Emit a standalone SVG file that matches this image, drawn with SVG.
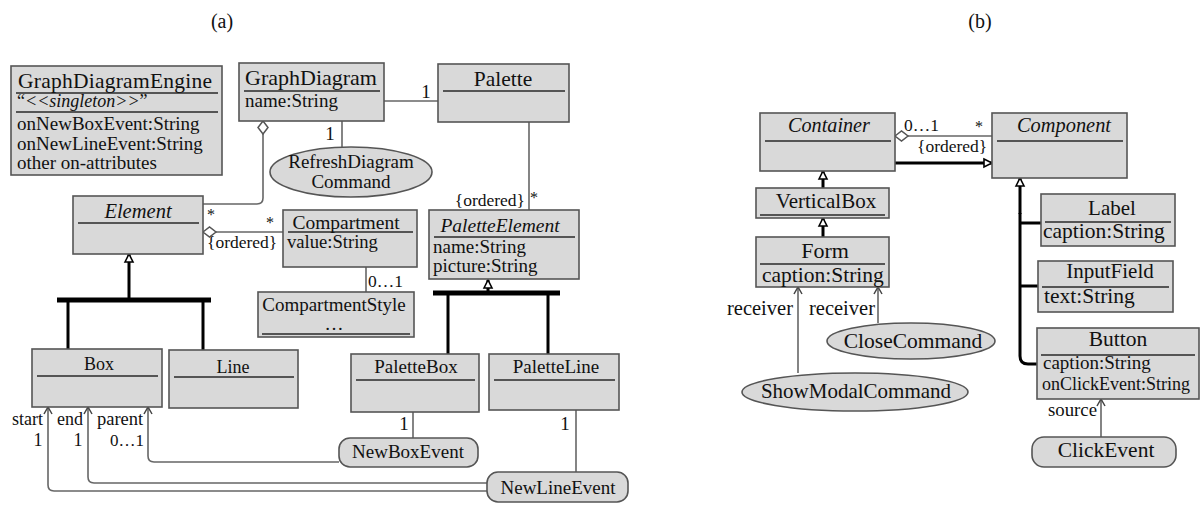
<svg xmlns="http://www.w3.org/2000/svg" width="1201" height="506" viewBox="0 0 1201 506" font-size="19">
<style>
text{font-family:"Liberation Serif","Times New Roman",serif;fill:#111}
.m{text-anchor:middle}
.it{font-style:italic}
.box{fill:#d9d9d9;stroke:#555;stroke-width:1.6}
.sep{stroke:#555;stroke-width:2;fill:none}
.conn{fill:none;stroke:#666;stroke-width:1.6}
.gen{fill:none;stroke:#000;stroke-width:3}
.bar{fill:none;stroke:#000;stroke-width:5}
.lbl{font-size:17.5px}
.star{font-size:16px}
</style>
<defs>
<marker id="dia" markerUnits="userSpaceOnUse" markerWidth="14" markerHeight="12" refX="0" refY="5" orient="auto" overflow="visible">
<path d="M0,5 L6.5,0 L13,5 L6.5,10 Z" fill="#fff" stroke="#555" stroke-width="1.5"/>
</marker>
<marker id="arr" markerUnits="userSpaceOnUse" markerWidth="10" markerHeight="10" refX="8" refY="4" orient="auto" overflow="visible">
<path d="M1,0 L8,4 L1,8" fill="none" stroke="#444" stroke-width="1.5"/>
</marker>
<marker id="tri" markerUnits="userSpaceOnUse" markerWidth="10" markerHeight="10" refX="8" refY="4" orient="auto" overflow="visible">
<path d="M0,0 L8,4 L0,8 Z" fill="#fff" stroke="#000" stroke-width="1.6"/>
</marker>
</defs>
<rect width="1201" height="506" fill="#fff"/>
<text class="m" x="222" y="28" font-size="20">(a)</text>
<text class="m" x="980" y="28" font-size="20">(b)</text>

<g id="connectors">
<!-- part a -->
<path class="conn" d="M384,101 L438,101"/>
<text class="m" x="426" y="98">1</text>
<path class="conn" d="M342,121 L342,147"/>
<text class="m" x="330" y="140">1</text>
<path class="conn" d="M263,121 L263,198 Q263,204 257,204 L203,204" marker-start="url(#dia)"/>
<text class="m star" x="211" y="220">*</text>
<path class="conn" d="M203,232 L283,232" marker-start="url(#dia)"/>
<text class="m star" x="270" y="228">*</text>
<text class="lbl" x="207" y="248">{ordered}</text>
<path class="conn" d="M366,267 L366,292"/>
<text class="lbl" x="368" y="287">0…1</text>
<path class="conn" d="M529,122 L529,210"/>
<text class="star" x="530" y="203">*</text>
<text class="lbl" x="525" y="206" text-anchor="end">{ordered}</text>
<path class="conn" d="M413,412 L413,438"/>
<text class="m" x="404" y="430">1</text>
<path class="conn" d="M576,410 L576,472"/>
<text class="m" x="565" y="430">1</text>
<path class="conn" d="M339,462 L154,462 Q148,462 148,456 L148,407" marker-end="url(#arr)"/>
<path class="conn" d="M487,483 L94,483 Q88,483 88,477 L88,407" marker-end="url(#arr)"/>
<path class="conn" d="M487,491 L54,491 Q48,491 48,485 L48,407" marker-end="url(#arr)"/>
<text x="12" y="425" font-size="18">start</text>
<text class="m" x="38" y="446" font-size="18">1</text>
<text x="57" y="425" font-size="18">end</text>
<text class="m" x="78" y="446" font-size="18">1</text>
<text x="97" y="425" font-size="18.5">parent</text>
<text x="110" y="446" font-size="17">0…1</text>
<!-- generalization trees part a -->
<path class="gen" d="M129,300 L129,254" marker-end="url(#tri)"/>
<path class="bar" d="M57,300 L211,300"/>
<path class="gen" d="M68,300 L68,350 M203,300 L203,350"/>
<path class="gen" d="M488,293 L488,280" marker-end="url(#tri)"/>
<path class="bar" d="M433,293 L560,293"/>
<path class="gen" d="M448,293 L448,354 M548,293 L548,354"/>
<!-- part b -->
<path class="conn" d="M895,136 L992,136" marker-start="url(#dia)"/>
<text class="lbl" x="904" y="131">0…1</text>
<text class="m star" x="979" y="132">*</text>
<text class="lbl" x="917" y="152">{ordered}</text>
<path class="gen" d="M895,163 L992,163" marker-end="url(#tri)"/>
<path class="gen" d="M823,188 L823,171" stroke-width="4" marker-end="url(#tri)"/>
<path class="gen" d="M823,237 L823,218" stroke-width="4" marker-end="url(#tri)"/>
<path class="conn" d="M798,373 L798,287" marker-end="url(#arr)"/>
<text x="727" y="315" font-size="20.5">receiver</text>
<path class="conn" d="M878,323 L878,287" marker-end="url(#arr)"/>
<text x="809" y="315" font-size="20.5">receiver</text>
<path class="gen" d="M1020,214 L1020,178" stroke-width="4" marker-end="url(#tri)"/>
<path class="gen" d="M1020,213 L1020,356 Q1020,364 1028,364 L1037,364" stroke-width="6"/>
<path class="gen" d="M1020,223 L1041,223 M1020,286 L1038,286" stroke-width="4"/>
<path class="conn" d="M1101,437 L1101,399" marker-end="url(#arr)"/>
<text x="1048" y="416" font-size="18.8">source</text>
</g>

<g id="GraphDiagramEngine">
<rect class="box" x="11" y="66" width="211" height="109"/>
<path class="sep" d="M16,93 H218 M16,112 H218"/>
<text class="m" x="115" y="88" font-size="21.5" textLength="194">GraphDiagramEngine</text>
<text x="17" y="107" font-size="18">“<tspan class="it">&lt;&lt;singleton&gt;&gt;</tspan>”</text>
<text x="17" y="130">onNewBoxEvent:String</text>
<text x="17" y="150">onNewLineEvent:String</text>
<text x="17" y="169">other on-attributes</text>
</g>
<g id="GraphDiagram">
<rect class="box" x="239" y="63" width="145" height="58"/>
<path class="sep" d="M244,91 H380"/>
<text class="m" x="311" y="85" font-size="22">GraphDiagram</text>
<text x="245" y="107">name:String</text>
</g>
<g id="Palette">
<rect class="box" x="438" y="64" width="131" height="58"/>
<path class="sep" d="M443,91 H565"/>
<text class="m" x="503" y="86" font-size="21.5">Palette</text>
</g>
<g id="RefreshDiagramCommand">
<ellipse class="box" cx="351" cy="172" rx="81" ry="25"/>
<text class="m" x="351" y="168">RefreshDiagram</text>
<text class="m" x="351" y="188">Command</text>
</g>
<g id="Element">
<rect class="box" x="73" y="196" width="130" height="58"/>
<path class="sep" d="M78,223 H199"/>
<text class="m it" x="138" y="218" font-size="20.5">Element</text>
</g>
<g id="Compartment">
<rect class="box" x="283" y="210" width="134" height="57"/>
<path class="sep" d="M288,232 H413"/>
<text class="m" x="346" y="229" font-size="19.5">Compartment</text>
<text x="287" y="248" font-size="18.6">value:String</text>
</g>
<g id="CompartmentStyle">
<rect class="box" x="258" y="292" width="156" height="45"/>
<path class="sep" d="M262,334 H410"/>
<text class="m" x="334" y="311">CompartmentStyle</text>
<text class="m" x="334" y="330">…</text>
</g>
<g id="PaletteElement">
<rect class="box" x="429" y="210" width="150" height="69"/>
<path class="sep" d="M434,237 H575"/>
<text class="m it" x="500" y="232" font-size="19.5">PaletteElement</text>
<text x="433" y="253">name:String</text>
<text x="433" y="272">picture:String</text>
</g>
<g id="Box">
<rect class="box" x="32" y="349" width="130" height="58"/>
<path class="sep" d="M37,376 H158"/>
<text class="m" x="99" y="370" font-size="18">Box</text>
</g>
<g id="Line">
<rect class="box" x="169" y="350" width="129" height="58"/>
<path class="sep" d="M174,377 H294"/>
<text class="m" x="233" y="373" font-size="18">Line</text>
</g>
<g id="PaletteBox">
<rect class="box" x="351" y="354" width="128" height="58"/>
<path class="sep" d="M356,380 H475"/>
<text class="m" x="416" y="373">PaletteBox</text>
</g>
<g id="PaletteLine">
<rect class="box" x="489" y="354" width="130" height="56"/>
<path class="sep" d="M494,380 H615"/>
<text class="m" x="556" y="373">PaletteLine</text>
</g>
<g id="NewBoxEvent">
<rect class="box" x="339" y="438" width="139" height="29" rx="11"/>
<text class="m" x="408" y="458">NewBoxEvent</text>
</g>
<g id="NewLineEvent">
<rect class="box" x="487" y="472" width="141" height="30" rx="11"/>
<text class="m" x="558" y="494">NewLineEvent</text>
</g>

<g id="Container">
<rect class="box" x="760" y="113" width="135" height="58"/>
<path class="sep" d="M765,141 H891"/>
<text class="m it" x="829" y="132" font-size="20.2">Container</text>
</g>
<g id="Component">
<rect class="box" x="992" y="113" width="135" height="65"/>
<path class="sep" d="M997,141 H1123"/>
<text class="m it" x="1064" y="132" font-size="20.4">Component</text>
</g>
<g id="VerticalBox">
<rect class="box" x="756" y="188" width="133" height="30"/>
<path class="sep" d="M760,215 H885"/>
<text class="m" x="826" y="208" font-size="21">VerticalBox</text>
</g>
<g id="Form">
<rect class="box" x="756" y="237" width="133" height="50"/>
<path class="sep" d="M760,264 H885"/>
<text class="m" x="825" y="258" font-size="22">Form</text>
<text x="762" y="282" font-size="21.5">caption:String</text>
</g>
<g id="CloseCommand">
<ellipse class="box" cx="911" cy="341" rx="84" ry="18"/>
<text class="m" x="913" y="348" font-size="21.5">CloseCommand</text>
</g>
<g id="ShowModalCommand">
<ellipse class="box" cx="855" cy="392" rx="113" ry="19"/>
<text class="m" x="856" y="398" font-size="21">ShowModalCommand</text>
</g>
<g id="Label">
<rect class="box" x="1041" y="194" width="134" height="52"/>
<path class="sep" d="M1045,222 H1171"/>
<text class="m" x="1112" y="215" font-size="21">Label</text>
<text x="1043" y="238" font-size="21.5">caption:String</text>
</g>
<g id="InputField">
<rect class="box" x="1038" y="261" width="135" height="51"/>
<path class="sep" d="M1042,287 H1169"/>
<text class="m" x="1110" y="278" font-size="21">InputField</text>
<text x="1044" y="303" font-size="21.5">text:String</text>
</g>
<g id="Button">
<rect class="box" x="1037" y="328" width="162" height="71"/>
<path class="sep" d="M1041,355 H1195"/>
<text class="m" x="1118" y="346" font-size="21.5">Button</text>
<text x="1043" y="369">caption:String</text>
<text x="1042" y="390" font-size="18">onClickEvent:String</text>
</g>
<g id="ClickEvent">
<rect class="box" x="1032" y="437" width="144" height="30" rx="12"/>
<text class="m" x="1106" y="457" font-size="21.5">ClickEvent</text>
</g>
</svg>
